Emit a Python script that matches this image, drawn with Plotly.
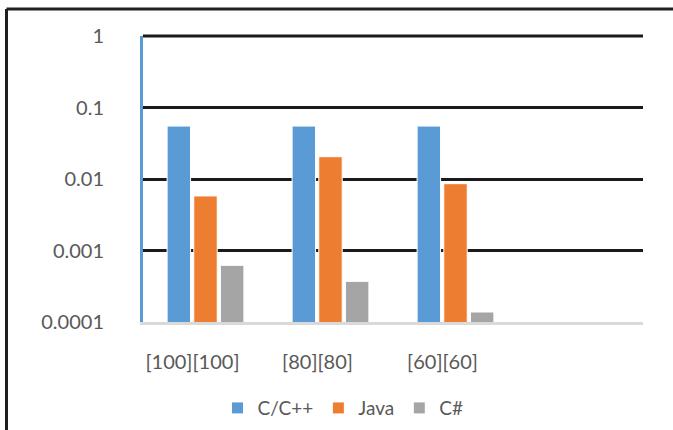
import plotly.graph_objects as go

categories = ["[100][100]", "[80][80]", "[60][60]"]
series_names = ["C/C++", "Java", "C#"]
cpp_values = [0.055, 0.055, 0.055]
java_values = [0.0058, 0.0205, 0.0086]
cs_values = [0.00062, 0.00037, 0.000138]
y_tick_vals = [0.0001, 0.001, 0.01, 0.1, 1]
y_tick_text = ["0.0001", "0.001", "0.01", "0.1", "1"]

colors = ["#5B9BD5", "#ED7D31", "#A5A5A5"]
font_family = "Lato, 'Open Sans', sans-serif"
text_color = "#595959"

fig = go.Figure()
for name, vals, col in zip(series_names, [cpp_values, java_values, cs_values], colors):
    fig.add_trace(go.Bar(
        x=categories, y=vals, name=name,
        marker=dict(color=col, line=dict(color="white", width=1)),
    ))

fig.update_layout(
    width=673, height=430,
    margin=dict(l=143, r=30, t=36, b=108),
    paper_bgcolor="white", plot_bgcolor="white",
    barmode="group", bargap=0.36, bargroupgap=0.12,
    font=dict(family=font_family, color=text_color, size=20),
    showlegend=True,
    legend=dict(orientation="h", x=0.40, xanchor="center",
                yref="container", y=0.051, yanchor="middle",
                font=dict(size=19, color=text_color), itemwidth=30,
                traceorder="normal"),
    xaxis=dict(type="category", range=[-0.5, 3.5], showline=True, linecolor="#D9D9D9",
               linewidth=3, showgrid=False, ticks="", ticklabelstandoff=20,
               ticklabelshift=-13, tickfont=dict(size=20, color=text_color)),
    yaxis=dict(type="log", range=[-4, 0], tickvals=y_tick_vals, ticktext=y_tick_text,
               showgrid=True, gridcolor="#1A1A1A", gridwidth=3,
               showline=True, linecolor="#5B9BD5", linewidth=3,
               ticks="", ticklabelstandoff=32, tickfont=dict(size=20, color=text_color)),
    shapes=[
        # top gridline at the value 1 (top of range), which plotly omits at the edge
        dict(type="line", xref="paper", yref="paper", x0=0, x1=1, y0=1, y1=1,
             line=dict(color="#1A1A1A", width=3), layer="below"),
        dict(type="line", xref="paper", yref="paper", x0=-0.273, x1=1.1, y0=1.0944, y1=1.0944,
             line=dict(color="#231F20", width=3)),
        dict(type="line", xref="paper", yref="paper", x0=-0.273, x1=-0.273, y0=1.0944, y1=-0.4,
             line=dict(color="#231F20", width=3)),
    ],
)

fig.write_html("out.html", config={"displayModeBar": False},
               post_script="document.body.style.margin='0';")
